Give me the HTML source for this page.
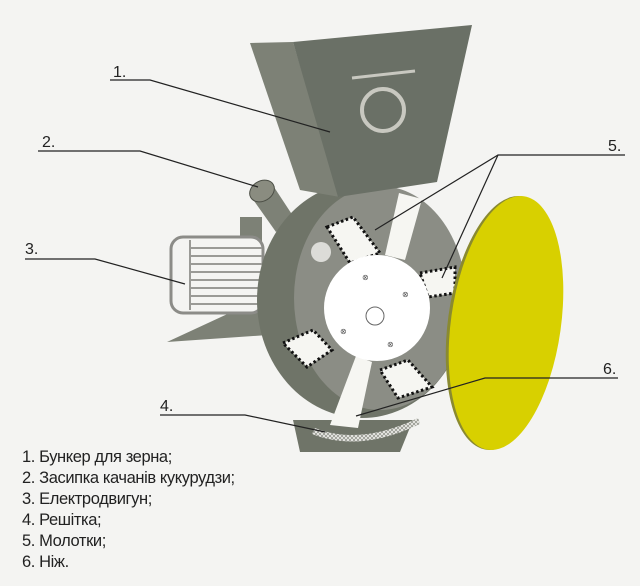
<!DOCTYPE html>
<html><head><meta charset="utf-8"><style>
html,body{margin:0;padding:0;background:#f4f4f2;}
svg{display:block}
text{font-family:"Liberation Sans",sans-serif;}
</style></head><body>
<svg width="640" height="586" viewBox="0 0 640 586" xmlns="http://www.w3.org/2000/svg">
<defs>
<pattern id="hatch" width="4" height="4" patternUnits="userSpaceOnUse">
<rect width="4" height="4" fill="#8b8d85"/>
<path d="M0,0 L4,4 M4,0 L0,4" stroke="#e8e8e4" stroke-width="1"/>
</pattern>
</defs>
<rect width="640" height="586" fill="#f4f4f2"/>
<!-- outlet bottom -->
<polygon points="293,420 413,420 400,452 300,452" fill="#6f7468"/>
<!-- triangle left -->
<polygon points="167,342 262,298 268,335" fill="#7d8176"/>
<!-- motor -->
<rect x="240" y="217" width="22" height="25" fill="#7d8176"/>
<rect x="171" y="237" width="92" height="76" rx="12" fill="#f4f4f2" stroke="#8c8c88" stroke-width="3"/>
<g stroke="#9a9a96" stroke-width="2">
<line x1="190" y1="240" x2="190" y2="310"/>
<line x1="190" y1="248" x2="262" y2="248"/><line x1="190" y1="256" x2="262" y2="256"/>
<line x1="190" y1="264" x2="262" y2="264"/><line x1="190" y1="272" x2="262" y2="272"/>
<line x1="190" y1="280" x2="262" y2="280"/><line x1="190" y1="288" x2="262" y2="288"/>
<line x1="190" y1="296" x2="262" y2="296"/><line x1="190" y1="304" x2="262" y2="304"/>
</g>
<!-- corn tube -->
<polygon points="252,198 272,184 293,216 276,232" fill="#7d8176"/>
<ellipse cx="262" cy="191" rx="13" ry="10" fill="#8a8c80" stroke="#4c4f46" stroke-width="1" transform="rotate(-30 262 191)"/>
<!-- drum back -->
<ellipse cx="362" cy="300" rx="105" ry="118" fill="#6f7468"/>
<!-- drum front -->
<ellipse cx="380" cy="298" rx="86" ry="112" fill="#8b8d85"/>
<circle cx="321" cy="252" r="10" fill="#dcdcd8"/>
<!-- grid -->
<path d="M315,428 Q360,446 418,418 L420,424 Q360,453 312,434 Z" fill="url(#hatch)"/>
<!-- hammers -->
<g fill="#f6f6f2" stroke="#111" stroke-width="3" stroke-dasharray="2.5 2.5">
<polygon points="327,227 353,217 380,253 350,263"/>
<polygon points="420,273 455,267 455,293 428,297"/>
<polygon points="283,343 313,330 332,350 307,367"/>
<polygon points="380,370 408,360 432,387 398,398"/>
</g>
<!-- knives -->
<g fill="#f6f6f2">
<polygon points="399,193 422,199 405,260 385,255"/>
<polygon points="356,356 372,362 358,428 330,425"/>
</g>
<!-- hub -->
<circle cx="377" cy="308" r="53" fill="#ffffff"/>
<circle cx="375" cy="316" r="9" fill="none" stroke="#666" stroke-width="1"/>
<g font-size="8" fill="#555"><text x="362" y="280">⊗</text><text x="402" y="297">⊗</text><text x="340" y="334">⊗</text><text x="387" y="347">⊗</text></g>
<!-- hopper -->
<polygon points="250,43 293,42 340,197 300,190" fill="#7d8176"/>
<polygon points="293,42 472,25 437,182 338,197" fill="#6a7066"/>
<line x1="352" y1="78" x2="415" y2="71" stroke="#c8c8c0" stroke-width="3"/>
<circle cx="383" cy="110" r="21" fill="none" stroke="#c8c8c0" stroke-width="4"/>
<!-- yellow -->
<ellipse cx="504" cy="323" rx="56" ry="128" fill="#8a8a30" transform="rotate(8 504 323)"/>
<ellipse cx="506" cy="323" rx="55" ry="128" fill="#d8d000" transform="rotate(8 506 323)"/>
<!-- leader lines -->
<g stroke="#222" stroke-width="1.2" fill="none">
<polyline points="110,80 150,80 330,132"/>
<polyline points="38,151 140,151 258,187"/>
<polyline points="25,259 95,259 185,284"/>
<polyline points="625,155 498,155 375,230"/>
<line x1="498" y1="155" x2="442" y2="278"/>
<polyline points="618,378 485,378 356,416"/>
<polyline points="160,415 245,415 325,432"/>
</g>
<g font-family="Liberation Serif, serif" font-size="16" fill="#222">
<text x="113" y="77">1.</text><text x="42" y="147">2.</text><text x="25" y="254">3.</text>
<text x="160" y="411">4.</text><text x="608" y="151">5.</text><text x="603" y="374">6.</text>
</g>
<g font-size="16.5" fill="#222" letter-spacing="-0.4">
<text x="22" y="462">1. Бункер для зерна;</text>
<text x="22" y="483">2. Засипка качанів кукурудзи;</text>
<text x="22" y="504">3. Електродвигун;</text>
<text x="22" y="525">4. Решітка;</text>
<text x="22" y="546">5. Молотки;</text>
<text x="22" y="567">6. Ніж.</text>
</g>
</svg>
</body></html>
